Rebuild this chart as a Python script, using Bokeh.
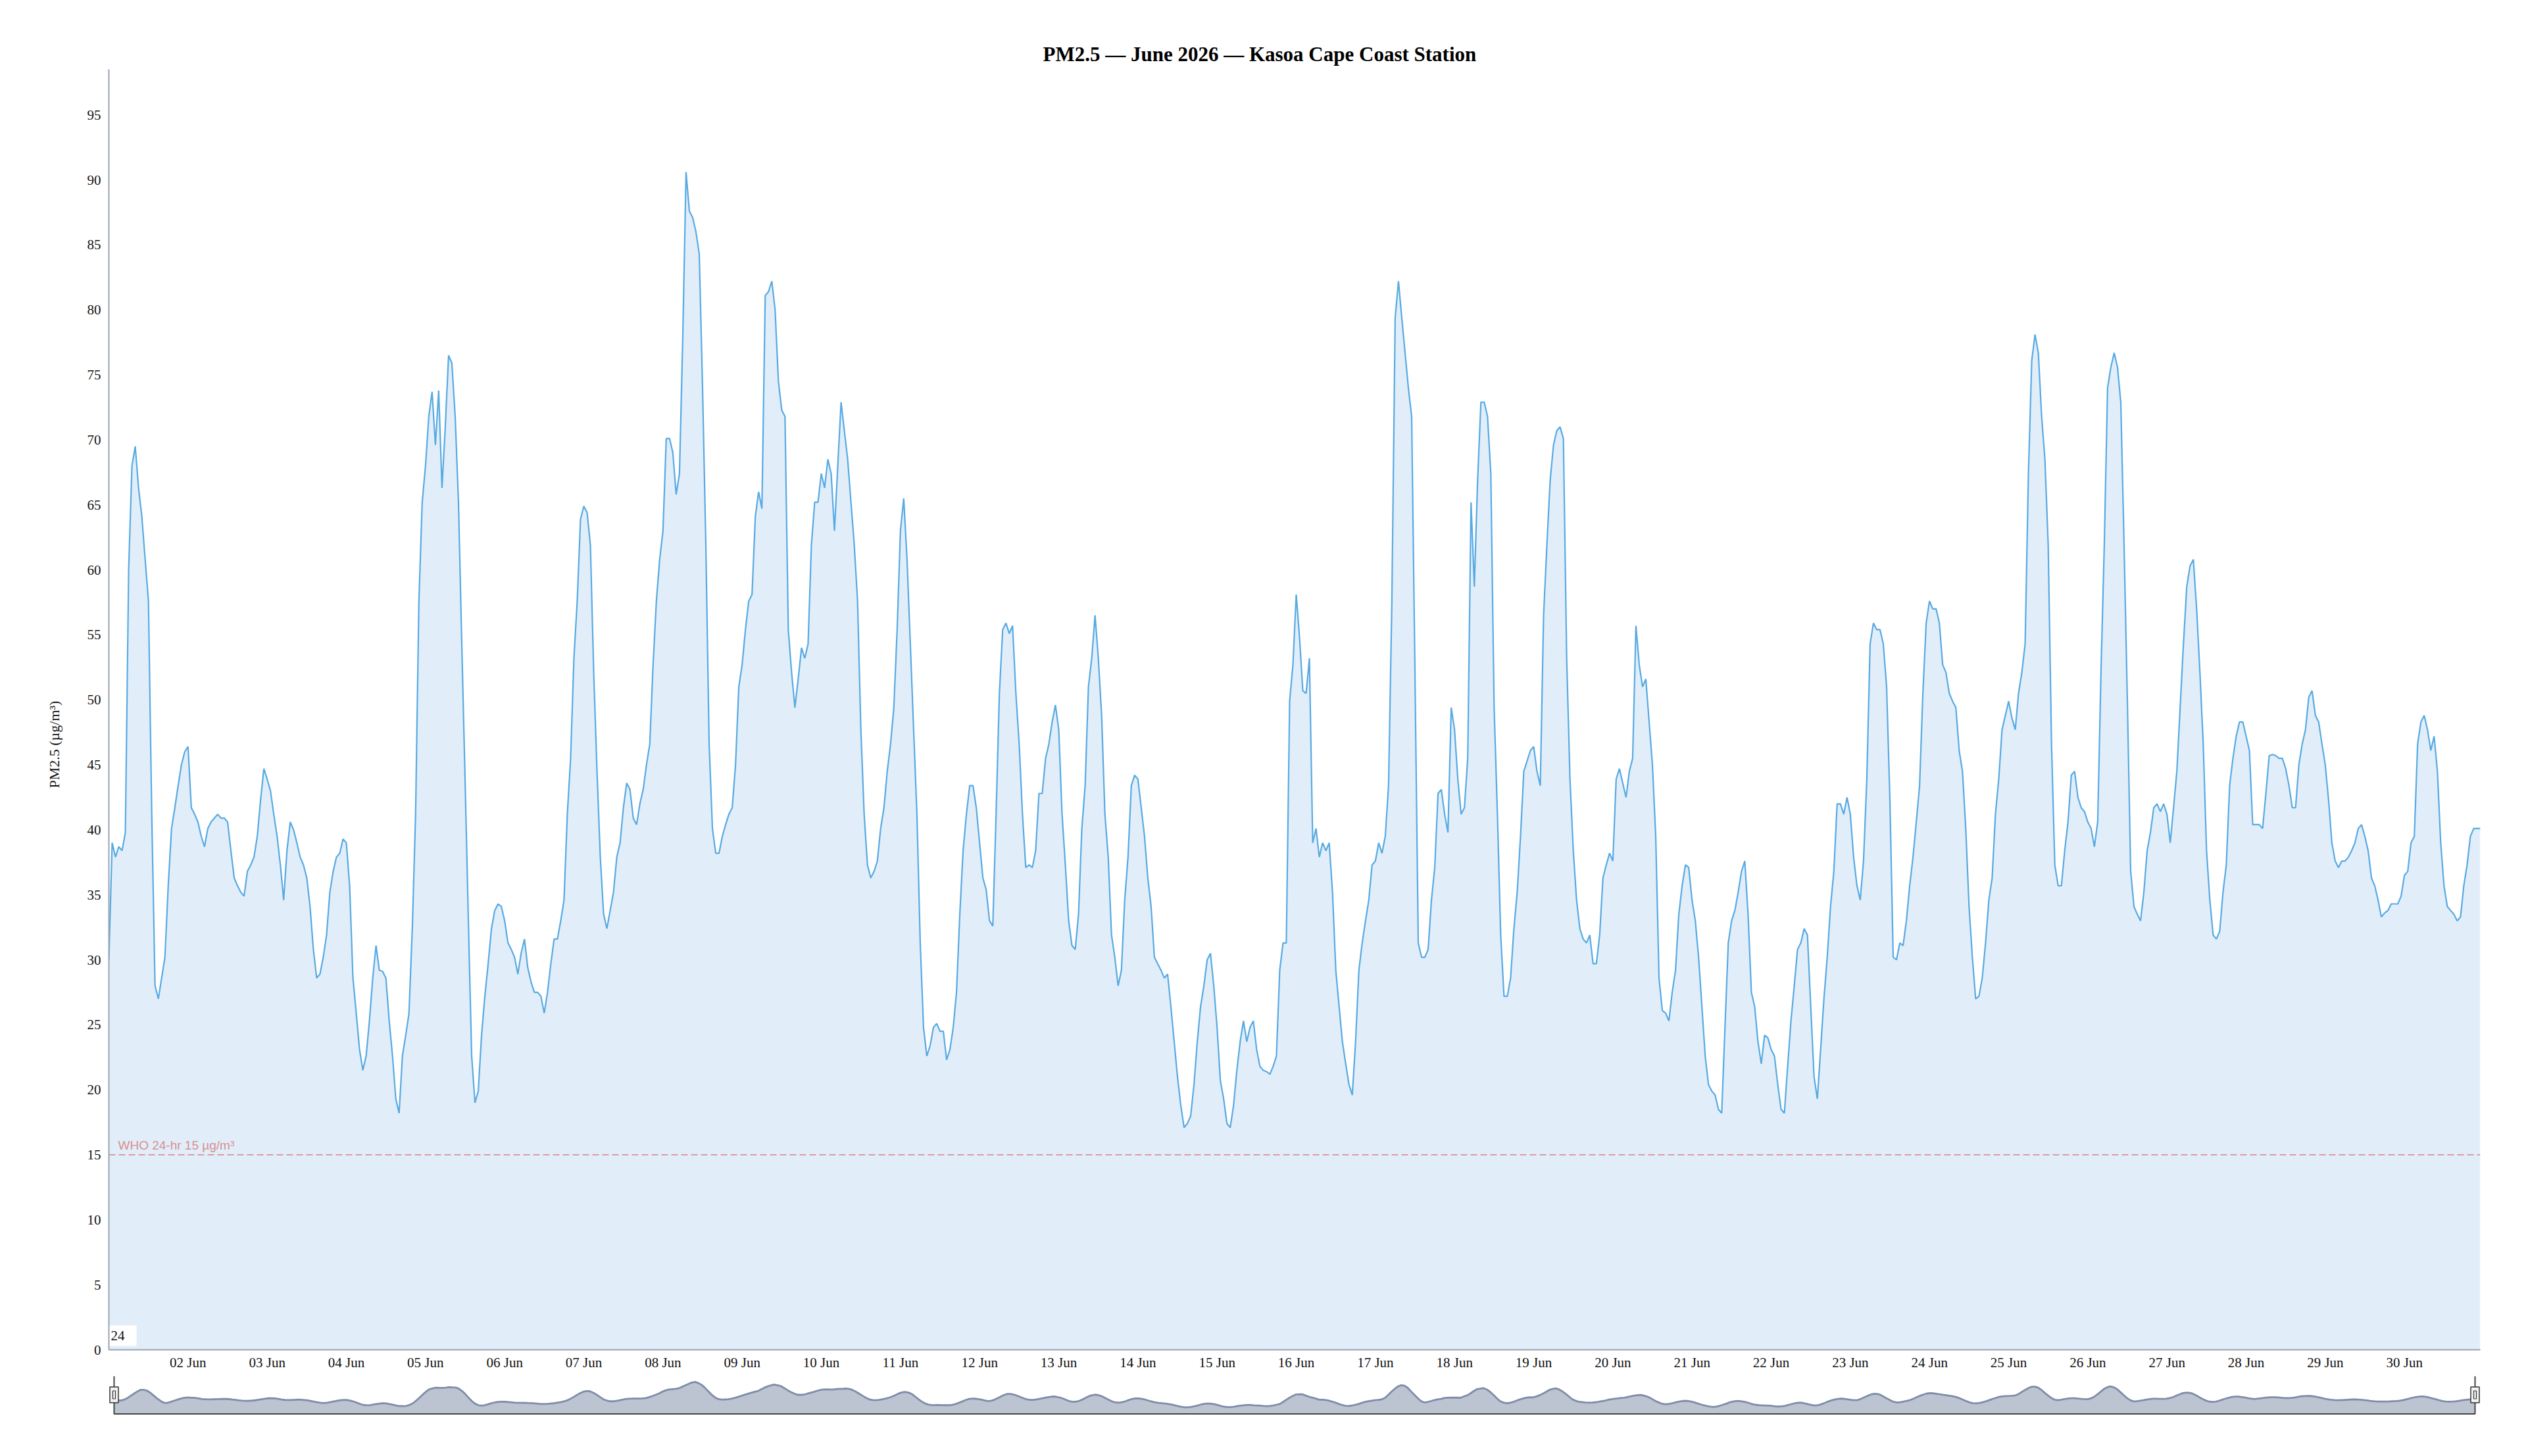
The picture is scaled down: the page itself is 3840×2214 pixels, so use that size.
import numpy as np
import pandas as pd
from bokeh.plotting import figure
from bokeh.models import (Range1d, FixedTicker, DatetimeTickFormatter, Span, Label,
                          ColumnDataSource, Title)
from bokeh.layouts import column
from bokeh.embed import file_html
from bokeh.resources import INLINE

# ---------------- data (hourly PM2.5, µg/m³) ----------------
week1 = [
    30.0, 39.0, 37.9, 38.7, 38.4, 39.8, 60.0, 68.0, 69.5, 66.3, 64.1, 60.8, 57.6, 41.2, 28.0, 27.0, 28.6, 30.2, 35.7, 40.1, 41.7, 43.4, 45.0, 46.0,
    46.4, 41.7, 41.2, 40.6, 39.5, 38.7, 40.1, 40.6, 40.9, 41.2, 40.9, 40.9, 40.6, 38.4, 36.3, 35.7, 35.2, 34.9, 36.8, 37.3, 37.9, 39.5, 42.3, 44.7,
    43.9, 43.0, 41.2, 39.5, 37.3, 34.6, 38.4, 40.6, 40.0, 39.0, 37.9, 37.3, 36.3, 34.1, 30.8, 28.6, 28.9, 30.2, 31.9, 35.2, 36.8, 37.9, 38.2, 39.3,
    39.0, 35.7, 28.6, 25.9, 23.1, 21.5, 22.6, 25.3, 28.6, 31.1, 29.2, 29.1, 28.6, 25.3, 22.6, 19.3, 18.2, 22.6, 24.2, 25.9, 32.4, 41.2, 57.6, 65.2,
    68.0, 71.8, 73.7, 69.6, 73.8, 66.3, 71.0, 76.5, 75.9, 71.8, 65.2, 54.3, 43.9, 33.0, 22.6, 19.0, 19.9, 24.2, 27.2, 29.7, 32.4, 33.8, 34.3, 34.1,
    33.0, 31.3, 30.8, 30.2, 28.9, 30.5, 31.6, 29.4, 28.3, 27.5, 27.5, 27.2, 25.9, 27.5, 29.7, 31.6, 31.6, 33.0, 34.6, 41.2, 45.5, 53.2, 57.6, 63.9,
    64.9, 64.4, 61.9, 52.1, 44.5, 37.9, 33.5, 32.4, 33.8, 35.2, 37.9, 39.0, 41.7, 43.6, 43.1, 40.9, 40.4, 42.0, 43.1, 45.0, 46.6, 52.7, 57.6, 60.8,
]
week2 = [
    63.0, 70.1, 70.1, 69.0, 65.8, 67.4, 77.8, 90.6, 87.6, 87.1, 86.0, 84.3, 74.0, 61.9, 46.6, 40.1, 38.2, 38.2, 39.5, 40.4, 41.2, 41.7, 45.0, 51.0,
    52.7, 55.4, 57.6, 58.1, 64.1, 66.0, 64.7, 81.1, 81.4, 82.2, 80.0, 74.5, 72.3, 71.8, 55.4, 52.1, 49.4, 51.6, 54.0, 53.2, 54.3, 61.9, 65.2, 65.2,
    67.4, 66.3, 68.5, 67.4, 63.0, 68.0, 72.9, 70.7, 68.5, 65.2, 61.9, 57.6, 47.7, 41.2, 37.3, 36.3, 36.8, 37.6, 40.1, 41.7, 44.5, 46.6, 49.4, 55.4,
    63.0, 65.5, 60.8, 54.3, 47.7, 41.2, 31.3, 24.8, 22.6, 23.4, 24.8, 25.1, 24.5, 24.5, 22.3, 23.1, 24.8, 27.5, 33.5, 38.4, 41.2, 43.4, 43.4, 41.7,
    39.0, 36.3, 35.4, 33.0, 32.6, 41.2, 50.5, 55.4, 55.9, 55.1, 55.7, 50.5, 46.6, 41.2, 37.1, 37.3, 37.1, 38.4, 42.8, 42.8, 45.5, 46.6, 48.3, 49.6,
    47.7, 41.2, 37.3, 33.0, 31.1, 30.8, 33.5, 40.1, 43.4, 51.0, 53.2, 56.5, 53.2, 48.8, 41.2, 37.9, 31.9, 30.2, 28.0, 29.2, 34.6, 37.9, 43.4, 44.2,
    43.9, 41.7, 39.5, 36.3, 34.1, 30.2, 29.7, 29.2, 28.6, 28.9, 26.4, 23.7, 21.0, 18.8, 17.1, 17.4, 18.0, 20.4, 23.7, 26.4, 28.0, 30.0, 30.5, 28.0,
]
week3 = [
    24.8, 20.7, 19.3, 17.4, 17.1, 18.8, 21.5, 23.7, 25.3, 23.7, 24.8, 25.3, 23.1, 21.8, 21.5, 21.4, 21.2, 21.8, 22.6, 29.2, 31.3, 31.3, 49.9, 52.7,
    58.1, 54.8, 50.7, 50.5, 53.2, 39.0, 40.1, 37.9, 39.0, 38.4, 39.0, 35.2, 29.2, 26.4, 23.7, 22.0, 20.4, 19.6, 23.7, 29.2, 31.3, 33.0, 34.6, 37.3,
    37.6, 39.0, 38.2, 39.5, 43.4, 57.6, 79.4, 82.2, 79.4, 76.7, 74.0, 71.8, 52.1, 31.3, 30.2, 30.2, 30.8, 34.6, 37.1, 42.8, 43.1, 41.2, 39.8, 49.4,
    47.7, 43.9, 41.2, 41.7, 45.5, 65.2, 58.7, 66.9, 72.9, 72.9, 71.8, 67.4, 49.4, 41.2, 31.9, 27.2, 27.2, 28.6, 32.4, 35.2, 39.5, 44.5, 45.3, 46.1,
    46.4, 44.5, 43.4, 56.5, 61.9, 66.9, 69.6, 70.7, 71.0, 70.1, 53.2, 43.9, 38.4, 34.6, 32.4, 31.6, 31.3, 31.9, 29.7, 29.7, 31.9, 36.3, 37.3, 38.2,
    37.6, 43.9, 44.7, 43.6, 42.5, 44.5, 45.5, 55.7, 52.7, 51.0, 51.6, 48.3, 45.0, 39.5, 28.6, 26.1, 25.9, 25.3, 27.5, 29.2, 33.5, 35.7, 37.3, 37.1,
    34.6, 33.0, 30.2, 26.4, 22.6, 20.4, 19.9, 19.6, 18.5, 18.2, 24.8, 31.3, 33.0, 33.8, 35.2, 36.8, 37.6, 33.5, 27.5, 26.4, 23.7, 22.0, 24.2, 24.0,
]
week4 = [
    23.1, 22.6, 20.4, 18.5, 18.2, 21.8, 25.3, 28.0, 30.8, 31.3, 32.4, 31.9, 26.4, 21.0, 19.3, 23.1, 27.0, 30.2, 34.1, 36.8, 42.0, 42.0, 41.2, 42.5,
    41.2, 37.9, 35.7, 34.6, 37.6, 43.9, 54.3, 55.9, 55.4, 55.4, 54.3, 51.0, 42.3, 30.2, 30.0, 31.3, 31.1, 33.0, 35.7, 37.9, 40.6, 43.4, 50.5, 55.9,
    57.6, 57.0, 57.0, 55.9, 52.7, 52.1, 50.5, 49.9, 49.4, 46.1, 44.5, 40.1, 34.1, 30.2, 27.0, 27.2, 28.6, 31.3, 34.6, 36.3, 41.2, 43.9, 47.7, 48.8,
    49.9, 48.6, 47.7, 50.5, 52.1, 54.3, 67.4, 76.1, 78.1, 76.7, 71.8, 68.5, 61.9, 46.6, 37.3, 35.7, 35.7, 38.4, 40.6, 44.2, 44.5, 42.5, 41.7, 41.4,
    40.6, 40.1, 38.7, 40.6, 52.1, 61.9, 74.0, 75.6, 76.7, 75.6, 72.9, 61.9, 49.9, 36.8, 34.1, 33.5, 33.0, 35.2, 38.4, 39.8, 41.7, 42.0, 41.4, 42.0,
    41.2, 39.0, 41.7, 44.5, 49.4, 54.3, 58.7, 60.3, 60.8, 57.0, 52.1, 46.6, 38.4, 34.6, 31.9, 31.6, 32.2, 35.2, 37.3, 43.4, 45.5, 47.2, 48.3, 48.3,
    47.2, 46.1, 40.4, 40.4, 40.4, 40.1, 42.8, 45.7, 45.8, 45.7, 45.5, 45.5, 44.7, 43.4, 41.7, 41.7, 45.0, 46.6, 47.7, 50.2, 50.7, 48.8, 48.3, 46.6,
]
week5 = [
    45.0, 42.3, 39.0, 37.6, 37.1, 37.6, 37.6, 37.9, 38.4, 39.0, 40.1, 40.4, 39.5, 38.4, 36.3, 35.7, 34.6, 33.3, 33.6, 33.8, 34.3, 34.3, 34.3, 34.9,
    36.5, 36.8, 39.0, 39.5, 46.6, 48.3, 48.8, 47.7, 46.1, 47.2, 44.5, 39.0, 35.7, 34.1, 33.8, 33.5, 33.0, 33.3, 35.7, 37.3, 39.5, 40.1, 40.1, 40.1,
]

start_time = "2026-06-01 00:00"
tick_days = list(range(2, 31))          # 02 Jun ... 30 Jun
y_ticks = list(range(0, 100, 5))        # 0 ... 95
who_limit = 15
who_text = "WHO 24-hr 15 µg/m³"
title_text = "PM2.5 — June 2026 — Kasoa Cape Coast Station"
y_title = "PM2.5 (µg/m³)"
corner_text = "24"

# ---------------- build sources ----------------
values = week1 + week2 + week3 + week4 + week5
t0 = pd.Timestamp(start_time)
times = pd.date_range(t0, periods=len(values), freq="h")
x_ms = np.array([t.value / 1e6 for t in times])
x0, x1 = x_ms[0], x_ms[-1]
nav_values = pd.Series(values).rolling(5, center=True, min_periods=1).mean().to_numpy()

src = ColumnDataSource(dict(x=x_ms, y=values, ny=nav_values))
tick_ms = [(t0 + pd.Timedelta(days=d - 1)).value / 1e6 for d in tick_days]

SERIF = "Liberation Serif"
AXIS_COLOR = "#9aa6b2"

# ---------------- main chart ----------------
FRAME_W = 3605
p = figure(width=3824, height=2091, x_axis_type="datetime",
           x_range=Range1d(x0, x1), y_range=Range1d(0, 98.5),
           output_backend="svg", toolbar_location=None,
           min_border_left=165, min_border_right=54,
           min_border_top=105, min_border_bottom=39,
           background_fill_color="white", border_fill_color="white")
p.outline_line_color = None
p.xgrid.visible = False
p.ygrid.visible = False

p.title.text = title_text
p.title.align = "left"
p.title.offset = 1420
p.title.standoff = 12
p.title.text_font = SERIF
p.title.text_font_size = "31px"
p.title.text_font_style = "bold"
p.title.text_color = "#000000"

p.varea(x="x", y1=0, y2="y", source=src, fill_color="#e1eefa")
p.line(x="x", y="y", source=src, line_color="#58aae2", line_width=2.2)

p.add_layout(Span(location=who_limit, dimension="width", line_color="#de9a9a",
                  line_width=2, line_dash="10 5"))
p.add_layout(Label(x=x0, y=who_limit, x_offset=14, y_offset=4, text=who_text,
                   text_font="Liberation Sans", text_font_size="19px",
                   text_color="#d98e8e", text_baseline="bottom", text_align="left"))

corner_y = 1.085
p.rect(x=[x0], y=[corner_y], width=84, height=31, width_units="screen",
       height_units="screen", fill_color="white", line_color=None)
p.add_layout(Label(x=x0, y=corner_y, x_offset=3, text=corner_text,
                   text_font=SERIF, text_font_size="21px", text_color="#111111",
                   text_baseline="middle", text_align="left"))

# y-axis title as a rotated title in the left panel
p.add_layout(Title(text=y_title, align="left", offset=854, standoff=70,
                   text_font=SERIF, text_font_size="22px", text_font_style="normal",
                   text_color="#111111"), "left")

# axes
for ax in (p.xaxis, p.yaxis):
    ax.axis_line_color = AXIS_COLOR
    ax.axis_line_width = 2
    ax.major_tick_line_color = None
    ax.minor_tick_line_color = None
    ax.major_label_text_font = SERIF
    ax.major_label_text_font_size = "21px"
    ax.major_label_text_color = "#111111"

p.yaxis.ticker = FixedTicker(ticks=y_ticks)
p.yaxis.major_label_standoff = 6

p.xaxis.ticker = FixedTicker(ticks=tick_ms)
fmt = "%d %b"
p.xaxis.formatter = DatetimeTickFormatter(days=fmt, months=fmt, hours=fmt,
                                          hourmin=fmt, minutes=fmt, years=fmt)
p.xaxis.major_label_standoff = 1

# ---------------- navigator ----------------
pad = 8 * (x1 - x0) / FRAME_W
nav = figure(width=3824, height=68, x_range=Range1d(x0 - pad, x1 + pad),
             y_range=Range1d(-2.5, 103), x_axis_location=None, y_axis_location=None,
             min_border_left=157, min_border_right=46, min_border_top=1,
             min_border_bottom=8, output_backend="svg", toolbar_location=None,
             background_fill_color="white", border_fill_color="white")
nav.outline_line_color = None
nav.grid.visible = False
nav.varea(x="x", y1=0, y2="ny", source=src, fill_color="#bcc3d1")
nav.line(x="x", y="ny", source=src, line_color="#7f8da8", line_width=2.8)
nav.line(x=[x0, x0, x1, x1], y=[103, 0, 0, 103], line_color="#444444", line_width=2)
nav.rect(x=[x0, x1], y=[52, 52], width=13, height=24, width_units="screen",
         height_units="screen", fill_color="#f2f2f2", line_color="#333333", line_width=1.5)
nav.rect(x=[x0, x1], y=[52, 52], width=4, height=12, width_units="screen",
         height_units="screen", fill_color=None, line_color="#333333", line_width=1.2)

layout = column(p, nav, spacing=0)
open("out.html", "w").write(file_html(layout, INLINE))
